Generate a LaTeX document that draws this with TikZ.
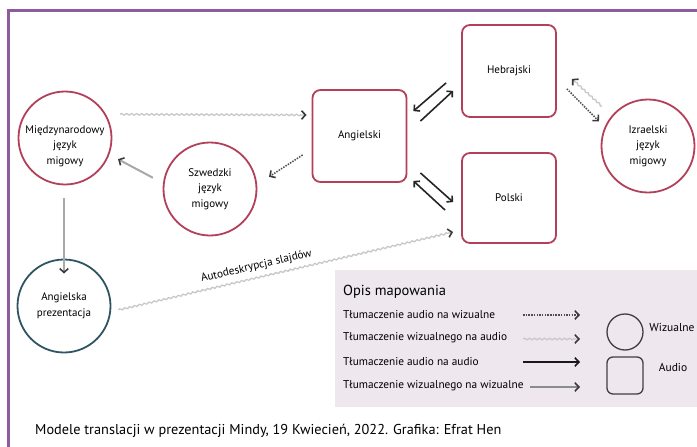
\documentclass[tikz,border=0pt]{standalone}
\usepackage{fontspec}
\setmainfont{PT Sans}
\usetikzlibrary{arrows.meta,decorations.pathmorphing}
\definecolor{framec}{HTML}{8E5B9C}
\definecolor{nred}{HTML}{B3405A}
\definecolor{nteal}{HTML}{2F5563}
\definecolor{legbg}{HTML}{EFE7EE}
\definecolor{wavec}{HTML}{C8C8C8}
\definecolor{tipc}{HTML}{3A3A3A}
\definecolor{vvc}{HTML}{A8A8A8}
\tikzset{
  nfont/.style={font=\fontsize{11}{15.5}\selectfont},
  vis/.style={circle, draw=nred, line width=1.8pt, minimum size=93pt, inner sep=0pt, align=center, nfont},
  aud/.style={rectangle, rounded corners=8pt, draw=nred, line width=1.8pt, minimum width=94pt, minimum height=92pt, inner sep=0pt, align=center, nfont},
  tip/.style={-{Straight Barb[length=4pt,width=8.5pt,line width=1.6pt,color=tipc]}},
  av/.style={draw=tipc!90, line width=1.5pt, dash pattern=on 1.5pt off 1.2pt, tip},
  va/.style={draw=wavec, line width=1.3pt, decorate, decoration={snake, amplitude=0.8pt, segment length=5pt, post length=4pt}, tip},
  aa/.style={draw=black!85, line width=1.6pt, -{Straight Barb[length=4pt,width=8.5pt,line width=1.6pt]}},
  vv/.style={draw=vvc, line width=2pt, tip},
  legtxt/.style={anchor=west, inner sep=0pt, font=\fontsize{11.3}{13}\selectfont},
}
\begin{document}
\begin{tikzpicture}[x=1pt,y=-1pt]
\useasboundingbox (0,0) rectangle (697,447);
% frame
\draw[framec, line width=3pt] (8.5,447) -- (8.5,10.5) -- (697,10.5);

% nodes
\node[vis, label={[align=center, nfont, yshift=-8pt]center:Międzynarodowy\\język\\migowy}] (mjm) at (65,138) {};
\node[vis] (szw) at (210,189) {Szwedzki\\język\\migowy};
\node[aud] (ang) at (359.5,136) {Angielski};
\node[aud] (heb) at (509,71) {Hebrajski};
\node[aud, minimum height=90pt] (pol) at (509,198) {Polski};
\node[vis] (izr) at (648,146) {Izraelski\\język\\migowy};
\node[vis, draw=nteal] (ap) at (64,306) {Angielska\\prezentacja};

% connectors
\draw[va] ([xshift=14pt]mjm.30) -- ([shift={(-5,-21)}]ang.west);
\draw[av] ([shift={(-9,19)}]ang.west) -- ([shift={(18,11.5)}]szw.30);
\draw[vv] ([shift={(-16,12.5)}]szw.150) -- ([shift={(12,-2.5)}]mjm.-30);
\draw[vv] ([shift={(-1,13)}]mjm.south) -- ([yshift=-15pt]ap.north);
\draw[aa] ([shift={(-15,-35)}]heb.south west) -- ([shift={(6,22)}]ang.north east);
\draw[aa] ([shift={(13,32)}]ang.north east) -- ([shift={(-8,-27)}]heb.south west);
\draw[aa] ([shift={(-16,58)}]pol.north west) -- ([shift={(6,-2)}]ang.south east);
\draw[aa] ([shift={(13,-10)}]ang.south east) -- ([shift={(-8,50)}]pol.north west);
\draw[av] ([shift={(10,-29)}]heb.south east) -- ([shift={(-8,-1)}]izr.150);
\draw[va] ([shift={(-5,-16)}]izr.150) -- ([shift={(15,-39)}]heb.south east);
\draw[va] ([shift={(7,4)}]ap.east) -- ([shift={(-8,34)}]pol.west)
  node[pos=0.42, sloped, above=2pt, font=\fontsize{11.3}{13}\selectfont, text=black] (lab) {Autodeskrypcja slajdów};

% legend
\fill[legbg] (335,270) rectangle (697,407);
\node[anchor=west, inner sep=0pt, font=\fontsize{14.5}{17}\selectfont] (lt) at (343,292) {Opis mapowania};
\node[legtxt] (l1) at (343,315) {Tłumaczenie audio na wizualne};
\node[legtxt] (l2) at (343,338) {Tłumaczenie wizualnego na audio};
\node[legtxt] (l3) at (343,362) {Tłumaczenie audio na audio};
\node[legtxt] (l4) at (343,386) {Tłumaczenie wizualnego na wizualne};
\coordinate (a1s) at (523,315); \coordinate (a1e) at (580,315);
\coordinate (a2s) at (523,339); \coordinate (a2e) at (580,339);
\coordinate (a3s) at (523,362); \coordinate (a3e) at (580,362);
\coordinate (a4s) at (530,387); \coordinate (a4e) at (580,387);
\draw[av] (a1s) -- (a1e);
\draw[va] (a2s) -- (a2e);
\draw[aa, draw=black!90] (a3s) -- (a3e);
\draw[vv, draw=black!45] (a4s) -- (a4e);
\node[circle, draw=black!75, line width=1.3pt, minimum size=36pt, inner sep=0pt] (lc) at (625,332) {};
\node[rectangle, rounded corners=6pt, draw=black!75, line width=1.3pt, minimum width=36pt, minimum height=37pt, inner sep=0pt] (lr) at (625,375.5) {};
\node[inner sep=0pt, font=\fontsize{11.5}{13}\selectfont] (lw) at (672,327) {Wizualne};
\node[inner sep=0pt, font=\fontsize{11.5}{13}\selectfont] (la) at (673,367) {Audio};

% caption
\node[anchor=west, inner sep=0pt, font=\fontsize{14.3}{17}\selectfont] (cap) at (35,431) {Modele translacji w prezentacji Mindy, 19 Kwiecień, 2022. Grafika: Efrat Hen};
\end{tikzpicture}
\end{document}
